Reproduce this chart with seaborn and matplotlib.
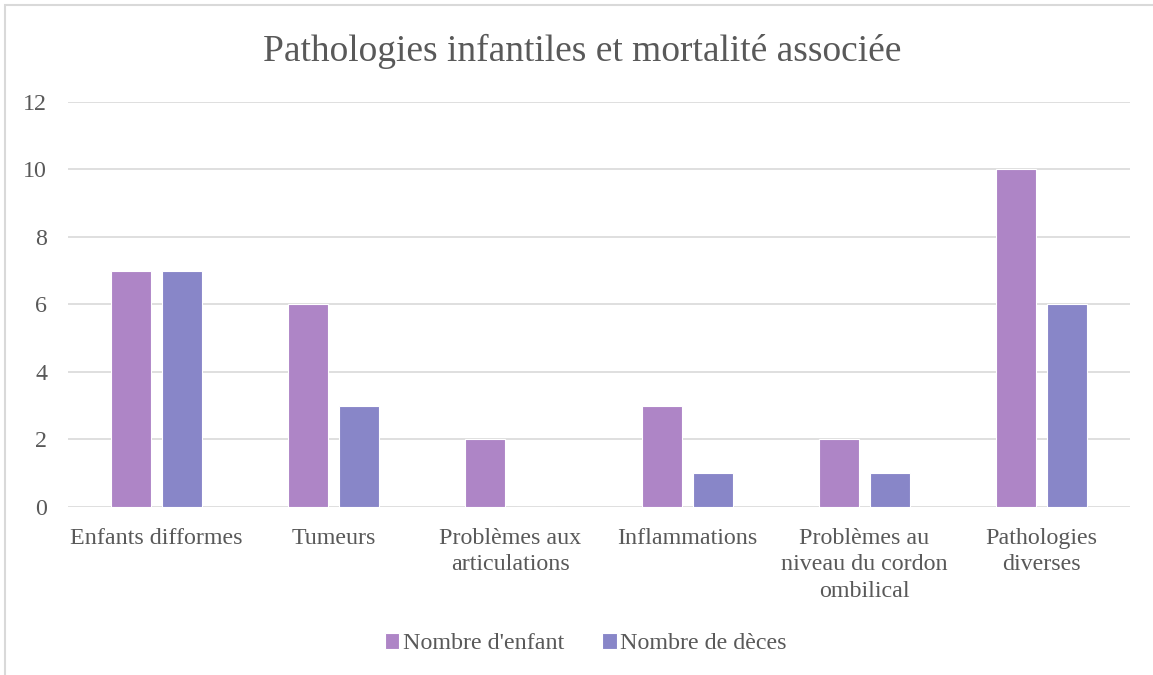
import matplotlib
matplotlib.use("Agg")
import matplotlib.pyplot as plt
import seaborn as sns
import pandas as pd
from matplotlib.patches import Rectangle

categories = ["Enfants difformes", "Tumeurs", "Problèmes aux\narticulations",
              "Inflammations", "Problèmes au\nniveau du cordon\nombilical",
              "Pathologies\ndiverses"]
series_names = ["Nombre d'enfant", "Nombre de dèces"]
enfants = [7, 6, 2, 3, 2, 10]
deces = [7, 3, 0, 1, 1, 6]
yticks = [0, 2, 4, 6, 8, 10, 12]

df = pd.DataFrame({
    "cat": categories * 2,
    "serie": [series_names[0]] * len(categories) + [series_names[1]] * len(categories),
    "val": enfants + deces,
})

sns.set_theme(style="white")
plt.rcParams['font.family'] = ['Liberation Serif', 'DejaVu Serif']

fig = plt.figure(figsize=(11.53, 6.75), dpi=100)
ax = fig.add_axes([0.059, 0.249, 0.921, 0.600])

colors = ["#AE85C6", "#8886C8"]
sns.barplot(data=df, x="cat", y="val", hue="serie", palette=colors, saturation=1,
            width=0.58, gap=0.22, ax=ax, edgecolor="white", linewidth=0.8,
            legend=True)

ax.set_ylim(0, 12)
ax.set_xlim(-0.5, len(categories) - 0.5)
ax.set_yticks(yticks)
ax.yaxis.grid(True, color="#D9D9D9", linewidth=1.2)
ax.set_axisbelow(True)
for s in ax.spines.values():
    s.set_visible(False)
ax.set_xlabel("")
ax.set_ylabel("")
ax.tick_params(axis="both", length=0, labelsize=17.3, colors="#595959")
ax.tick_params(axis="y", pad=15)
ax.tick_params(axis="x", pad=15)
for lbl in ax.get_xticklabels():
    lbl.set_linespacing(1.35)

fig.text(0.505, 0.924, "Pathologies infantiles et mortalité associée",
         ha="center", va="center", fontsize=27, color="#595959")

handles, labels = ax.get_legend_handles_labels()
ax.legend_.remove()
fig.legend(handles, labels, loc="center", bbox_to_anchor=(0.508, 0.046), ncol=2,
           frameon=False, fontsize=17.3, labelcolor="#595959",
           handlelength=0.6, handleheight=0.6, handletextpad=0.15, columnspacing=1.6)

fig.patches.append(Rectangle((5 / 1153, -0.1), 1.2, (675 - 5) / 675 + 0.1,
                             transform=fig.transFigure, fill=False,
                             edgecolor="#D9D9D9", linewidth=1.5, zorder=-1))

fig.savefig("out.png", dpi=100, facecolor="white")
